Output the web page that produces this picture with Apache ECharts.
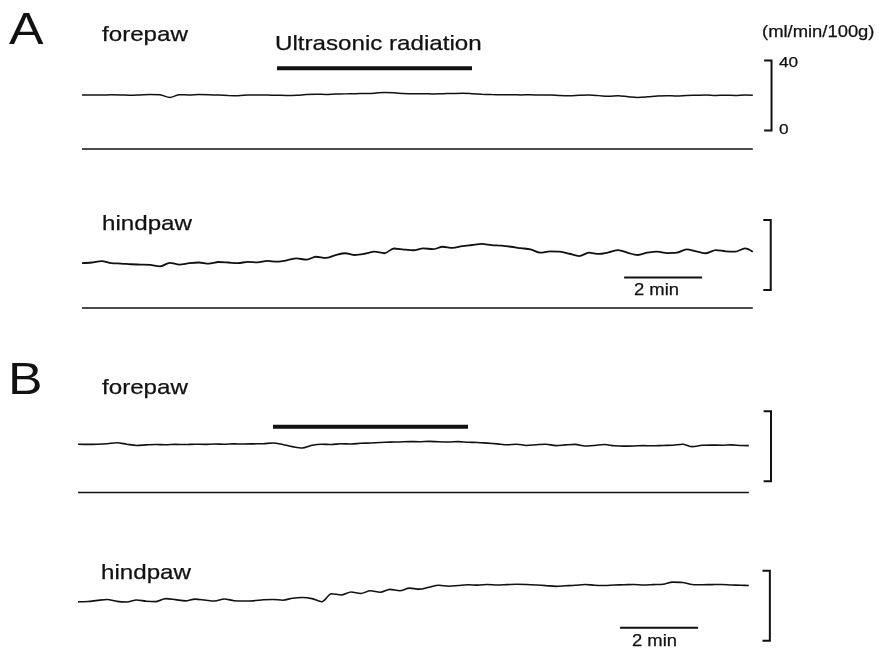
<!DOCTYPE html>
<html>
<head>
<meta charset="utf-8">
<script src="https://cdn.jsdelivr.net/npm/echarts@6/dist/echarts.min.js"></script>
<style>
  html, body { margin: 0; padding: 0; background: #fff; }
  #chart { width: 880px; height: 650px; }
</style>
</head>
<body>
<div id="chart"></div>
<script>
// time in minutes, one reading every 15 s
var time = [0, 0.25, 0.5, 0.75, 1, 1.25, 1.5, 1.75, 2, 2.25, 2.5, 2.75, 3, 3.25, 3.5, 3.75, 4, 4.25, 4.5, 4.75,
  5, 5.25, 5.5, 5.75, 6, 6.25, 6.5, 6.75, 7, 7.25, 7.5, 7.75, 8, 8.25, 8.5, 8.75, 9, 9.25, 9.5, 9.75,
  10, 10.25, 10.5, 10.75, 11, 11.25, 11.5, 11.75, 12, 12.25, 12.5, 12.75, 13, 13.25, 13.5, 13.75, 14, 14.25, 14.5, 14.75,
  15, 15.25, 15.5, 15.75, 16, 16.25, 16.5, 16.75, 17, 17.2];

// blood flow, ml/min/100g
var foreA = [30.8, 30.9, 30.8, 31.0, 30.9, 30.7, 30.9, 31.1, 31.0, 29.4, 31.0, 30.9, 31.1, 31.0, 30.8, 30.6, 30.5, 30.8, 30.9, 30.8,
  30.7, 30.6, 30.7, 31.1, 31.3, 31.2, 31.4, 31.5, 31.6, 31.7, 31.9, 32.3, 32.1, 31.7, 31.6, 31.6, 31.5, 31.6, 31.7, 31.8,
  31.6, 31.3, 31.1, 31.0, 31.0, 30.9, 31.0, 30.8, 30.9, 30.6, 30.5, 30.7, 30.8, 30.5, 30.1, 30.4, 29.9, 29.5, 29.8, 30.3,
  30.5, 30.3, 30.6, 30.7, 30.8, 30.6, 30.7, 30.6, 30.8, 30.7];
var hindA = [25.7, 26.0, 26.8, 25.6, 25.4, 25.0, 24.8, 24.6, 23.8, 25.8, 24.8, 25.6, 26.0, 25.4, 26.3, 26.0, 25.6, 26.4, 26.1, 26.9,
  26.5, 27.2, 28.4, 27.6, 29.3, 28.6, 30.2, 31.3, 30.3, 31.0, 32.2, 31.3, 34.0, 33.4, 33.0, 34.1, 33.6, 35.0, 34.4, 35.4,
  36.0, 36.6, 35.9, 35.6, 35.0, 34.2, 33.5, 31.6, 32.4, 32.2, 31.0, 29.7, 31.6, 30.9, 31.8, 33.1, 31.5, 30.3, 31.6, 32.2,
  31.4, 31.6, 33.5, 32.4, 31.3, 33.1, 32.4, 32.2, 34.1, 32.2];
var foreB = [27.6, 27.5, 27.6, 27.9, 28.4, 27.6, 26.9, 27.2, 27.4, 27.3, 27.5, 27.4, 27.6, 27.5, 27.7, 27.6, 27.8, 27.7, 27.8, 27.9,
  28.3, 27.4, 26.2, 25.4, 27.0, 27.6, 27.4, 27.9, 27.7, 28.1, 28.3, 28.6, 28.8, 28.9, 29.1, 29.0, 29.2, 29.0, 28.9, 29.1,
  28.7, 28.6, 28.2, 27.8, 27.3, 27.6, 26.9, 27.3, 27.6, 26.8, 27.2, 27.5, 26.6, 26.9, 27.4, 26.7, 26.5, 26.6, 26.8, 26.7,
  26.9, 27.0, 27.6, 26.2, 27.0, 27.1, 27.0, 27.2, 26.9, 26.8];
var hindB = [29.0, 29.1, 29.8, 30.3, 29.2, 28.9, 30.0, 29.3, 29.1, 30.8, 30.2, 29.5, 30.5, 30.0, 29.4, 30.6, 29.6, 29.4, 29.5, 30.1,
  30.3, 29.9, 31.0, 31.4, 30.8, 29.0, 33.6, 32.9, 34.6, 33.7, 35.3, 34.4, 36.1, 35.3, 36.8, 36.2, 37.3, 38.4, 37.9, 38.3,
  38.7, 38.5, 38.9, 38.6, 38.8, 39.0, 38.9, 38.6, 38.2, 37.8, 38.1, 38.4, 38.9, 38.4, 38.3, 38.6, 38.7, 38.9, 38.6, 38.8,
  39.0, 40.2, 40.0, 38.9, 38.7, 38.8, 38.9, 38.6, 38.4, 38.3];

// ultrasonic radiation on / off (min)
var radiation = [5, 10];
// time calibration bar (min) and flow calibration (ml/min/100g)
var timeBar = [13.9, 15.9];
var flowBar = [0, 40];

var INK = '#111';
var FONT = '"Liberation Sans", Arial, sans-serif';

function pairs(ys) {
  return time.map(function (t, i) { return [t, ys[i]]; });
}

function trace(idx, ys, w) {
  return {
    type: 'line', xAxisIndex: idx, yAxisIndex: idx, data: pairs(ys),
    showSymbol: false, smooth: 0.3, silent: true,
    lineStyle: { color: INK, width: w }
  };
}

function seg(idx, pts, w) {
  return {
    type: 'line', xAxisIndex: idx, yAxisIndex: idx, data: pts,
    showSymbol: false, silent: true,
    lineStyle: { color: INK, width: w, cap: 'butt', join: 'miter' }
  };
}

function baseline(idx) {
  return seg(idx, [[time[0], 0], [time[time.length - 1], 0]], 1.3);
}

// "]" shaped calibration bracket, lo = flow value at its lower end
function bracket(idx, x, lo) {
  var hi = lo + flowBar[1] - flowBar[0];
  return seg(idx, [[x - 0.19, hi], [x, hi], [x, lo], [x - 0.19, lo]], 2);
}

function label(text, x, y, size, weight) {
  return {
    type: 'text', x: x, y: y, scaleX: 1.15, silent: true,
    style: {
      text: text, font: size + 'px ' + FONT, fill: INK,
      stroke: INK, lineWidth: weight,
      align: 'left', verticalAlign: 'middle',
      textAlign: 'left', textVerticalAlign: 'middle'
    }
  };
}

// 1.75 px per ml/min/100g and 39 px per min in every panel
var grids = [
  { left: 82, top: 44, width: 702, height: 122.5 },
  { left: 82, top: 203, width: 702, height: 122.5 },
  { left: 78, top: 387.5, width: 702, height: 122.5 },
  { left: 78, top: 547.5, width: 702, height: 101.5 }
];
var yMin = [-10, -10, -10, 2];

var option = {
  animation: false,
  backgroundColor: '#fff',
  grid: grids,
  xAxis: grids.map(function (g, i) {
    return { gridIndex: i, type: 'value', min: 0, max: 18, show: false };
  }),
  yAxis: grids.map(function (g, i) {
    return { gridIndex: i, type: 'value', min: yMin[i], max: 60, show: false };
  }),
  series: [
    // A forepaw
    trace(0, foreA, 1.5),
    baseline(0),
    seg(0, [[radiation[0], 46.1], [radiation[1], 46.1]], 4),
    bracket(0, 17.68, 10.6),
    // A hindpaw
    trace(1, hindA, 1.8),
    baseline(1),
    seg(1, [[timeBar[0], 17.5], [timeBar[1], 17.5]], 2),
    bracket(1, 17.66, 10.3),
    // B forepaw
    trace(2, foreB, 1.6),
    baseline(2),
    seg(2, [[radiation[0], 37.6], [radiation[1], 37.6]], 4),
    bracket(2, 17.77, 6.5),
    // B hindpaw
    trace(3, hindB, 1.6),
    seg(3, [[timeBar[0], 14.2], [timeBar[1], 14.2]], 2),
    bracket(3, 17.74, 6.7)
  ],
  graphic: [
    label('A', 9, 32, 45, 0),
    label('B', 8, 381.5, 45, 0),
    label('forepaw', 102, 35.3, 21, 0.25),
    label('Ultrasonic radiation', 275, 44.3, 21, 0.25),
    label('(ml/min/100g)', 762, 32.7, 16, 0.25),
    label(String(flowBar[1]), 779, 62.8, 15, 0.25),
    label(String(flowBar[0]), 779, 129.8, 15, 0.25),
    label('hindpaw', 102, 224.3, 21, 0.25),
    label('2 min', 634, 290.4, 16, 0.25),
    label('forepaw', 102, 388, 21, 0.25),
    label('hindpaw', 101, 573, 21, 0.25),
    label('2 min', 632, 641.4, 16, 0.25)
  ]
};

var chart = echarts.init(document.getElementById('chart'));
chart.setOption(option);
</script>
</body>
</html>
